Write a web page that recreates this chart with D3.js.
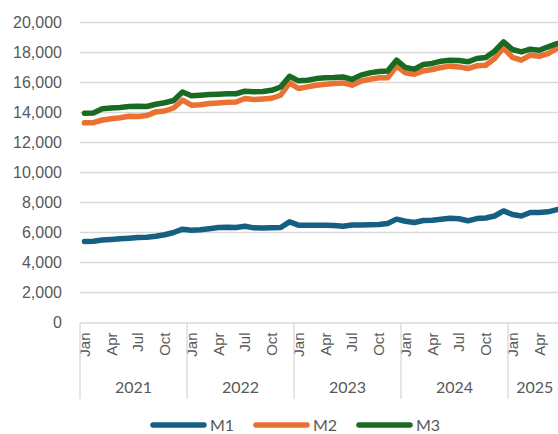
<!DOCTYPE html>
<html>
<head>
<meta charset="utf-8">
<script src="https://cdn.jsdelivr.net/npm/d3@7"></script>
<style>
  body { margin: 0; background: #fff; }
  svg { display: block; font-family: Lato, "Open Sans", sans-serif; }
</style>
</head>
<body>
<div id="chart"></div>
<script>
// categories: Jan 2021 .. Jun 2025
const years = [2021, 2022, 2023, 2024, 2025];
const monthNames = ["Jan","Feb","Mar","Apr","May","Jun","Jul","Aug","Sep","Oct","Nov","Dec"];
const shownMonths = ["Jan", "Apr", "Jul", "Oct"];
const yTicks = [0, 2000, 4000, 6000, 8000, 10000, 12000, 14000, 16000, 18000, 20000];
const seriesNames = ["M1", "M2", "M3"];
const seriesColors = ["#156082", "#e97132", "#196b24"];

// monthly values
const m1 = [
  5400, 5420, 5500, 5540, 5580, 5620, 5660, 5690, 5750, 5850, 6000, 6220,
  6150, 6180, 6250, 6330, 6350, 6330, 6420, 6310, 6300, 6320, 6330, 6710,
  6490, 6480, 6480, 6480, 6470, 6420, 6500, 6500, 6520, 6530, 6600, 6890,
  6750, 6670, 6800, 6820, 6880, 6950, 6920, 6780, 6930, 6970, 7100, 7440,
  7200, 7100, 7330, 7330, 7380, 7530
];
const m2 = [
  13310, 13320, 13500, 13580, 13650, 13750, 13740, 13800, 14040, 14100, 14300, 14820,
  14490, 14520, 14600, 14640, 14680, 14700, 14930, 14860, 14900, 14950, 15150, 15970,
  15600, 15710, 15820, 15890, 15930, 15970, 15820, 16090, 16220, 16310, 16310, 17090,
  16640, 16550, 16770, 16870, 17000, 17090, 17040, 16930, 17110, 17150, 17600, 18310,
  17670, 17490, 17820, 17750, 17930, 18270
];
const m3 = [
  13950, 13970, 14250, 14300, 14330, 14400, 14420, 14400, 14550, 14650, 14800, 15370,
  15110, 15150, 15200, 15220, 15250, 15250, 15420, 15380, 15400, 15480, 15700, 16420,
  16110, 16150, 16260, 16310, 16330, 16370, 16200, 16490, 16640, 16730, 16770, 17490,
  17000, 16890, 17200, 17270, 17420, 17490, 17460, 17380, 17600, 17670, 18090, 18710,
  18200, 18040, 18220, 18150, 18370, 18600
];
const seriesValues = [m1, m2, m3];

// build the category list
const categories = [];
years.forEach(function (yr) {
  monthNames.forEach(function (mn, mi) {
    if (categories.length < m1.length) categories.push({ year: yr, month: mn, key: yr + "-" + (mi + 1) });
  });
});

const width = 558, height = 434;
const plotLeft = 80, plotTop = 22.5, plotBottom = 322.5;
const monthWidth = 107 / 12;
const plotRight = plotLeft + categories.length * monthWidth;
const gridColor = "#d9d9d9";
const textColor = "#595959";

const svg = d3.select("#chart").append("svg")
  .attr("width", width)
  .attr("height", height);

const x = d3.scaleBand()
  .domain(categories.map(d => d.key))
  .range([plotLeft, plotRight])
  .padding(0);

const y = d3.scaleLinear()
  .domain([0, 20000])
  .range([plotBottom, plotTop]);

// gridlines
svg.append("g")
  .selectAll("line")
  .data(yTicks.slice(1))
  .join("line")
  .attr("x1", plotLeft)
  .attr("x2", plotRight)
  .attr("y1", d => y(d))
  .attr("y2", d => y(d))
  .attr("stroke", gridColor)
  .attr("stroke-width", 1.3);

// y axis labels
const yAxis = svg.append("g")
  .attr("transform", "translate(" + plotLeft + ",0)")
  .call(d3.axisLeft(y).tickValues(yTicks).tickFormat(d3.format(",")).tickSize(0).tickPadding(18));
yAxis.select(".domain").remove();
yAxis.selectAll("text")
  .attr("fill", textColor)
  .style("font-size", "16px");

// x axis (month labels)
const xAxis = svg.append("g")
  .attr("transform", "translate(0," + plotBottom + ")")
  .call(d3.axisBottom(x)
    .tickValues(categories.filter(d => shownMonths.includes(d.month)).map(d => d.key))
    .tickFormat(k => categories.find(d => d.key === k).month)
    .tickSize(0));
xAxis.select(".domain")
  .attr("stroke", gridColor)
  .attr("stroke-width", 1.3);
xAxis.selectAll("text")
  .attr("transform", "rotate(-90)")
  .attr("text-anchor", "end")
  .attr("x", -10)
  .attr("y", 0)
  .attr("dy", "0.36em")
  .attr("fill", textColor)
  .style("font-size", "15px");

// year group separators and labels
const yearGroups = years.map(function (yr) {
  const cats = categories.filter(d => d.year === yr);
  return {
    year: yr,
    x0: x(cats[0].key),
    x1: x(cats[cats.length - 1].key) + x.bandwidth()
  };
});

svg.append("g")
  .selectAll("line")
  .data(yearGroups)
  .join("line")
  .attr("x1", d => d.x0)
  .attr("x2", d => d.x0)
  .attr("y1", plotBottom)
  .attr("y2", 399)
  .attr("stroke", gridColor)
  .attr("stroke-width", 1.3);

svg.append("g")
  .selectAll("text")
  .data(yearGroups)
  .join("text")
  .attr("x", d => (d.x0 + d.x1) / 2)
  .attr("y", 393)
  .attr("text-anchor", "middle")
  .attr("fill", textColor)
  .style("font-size", "16px")
  .text(d => d.year);

// lines
const line = d3.line()
  .x((d, i) => x(categories[i].key) + x.bandwidth() / 2)
  .y(d => y(d));

svg.append("g")
  .selectAll("path")
  .data(seriesValues)
  .join("path")
  .attr("d", d => line(d))
  .attr("fill", "none")
  .attr("stroke", (d, i) => seriesColors[i])
  .attr("stroke-width", 5.5)
  .attr("stroke-linejoin", "round")
  .attr("stroke-linecap", "round");

// legend
const legend = svg.append("g")
  .selectAll("g")
  .data(seriesNames)
  .join("g")
  .attr("transform", (d, i) => "translate(" + (153 + i * 103) + ",425)");

legend.append("line")
  .attr("x1", 0)
  .attr("x2", 51)
  .attr("y1", 0)
  .attr("y2", 0)
  .attr("stroke", (d, i) => seriesColors[i])
  .attr("stroke-width", 5.5)
  .attr("stroke-linecap", "round");

legend.append("text")
  .attr("x", 57)
  .attr("y", 0)
  .attr("dy", "0.35em")
  .attr("fill", textColor)
  .style("font-size", "16px")
  .text(d => d);
</script>
</body>
</html>
